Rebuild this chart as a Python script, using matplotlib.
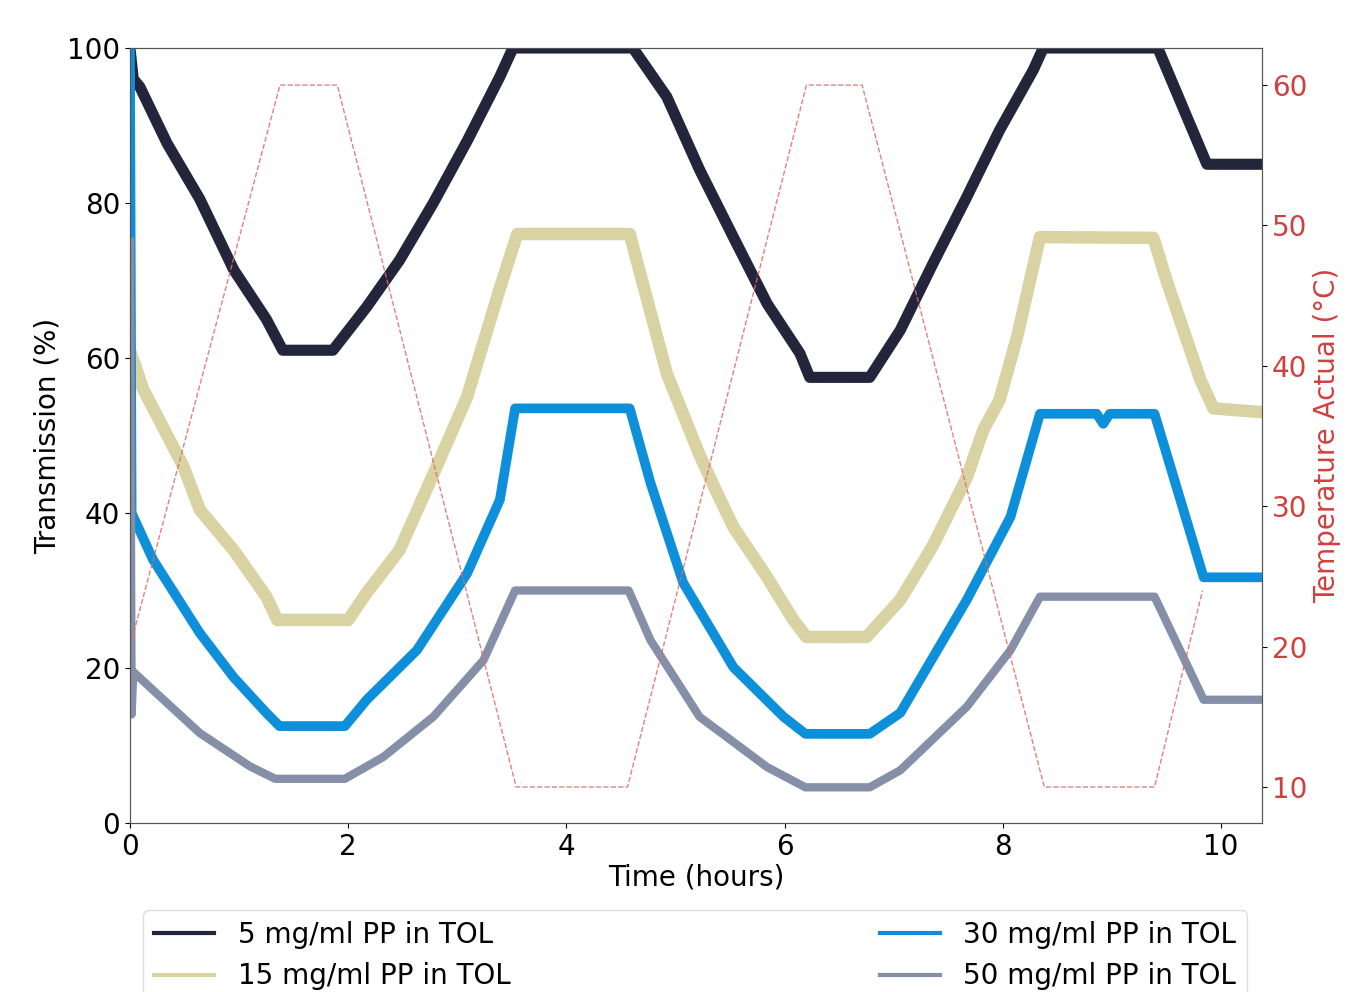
import matplotlib
matplotlib.use("Agg")
import matplotlib.pyplot as plt

# Temperature program (°C)
t_temp = [0.0, 1.375, 1.90, 3.54, 4.56, 6.20, 6.71, 8.38, 9.39, 9.83]
temp = [20, 60, 60, 10, 10, 60, 60, 10, 10, 24]

# Transmission (%) - 5 mg/ml
t_5 = [0.0, 0.03, 0.09, 0.34, 0.64, 0.95, 1.25, 1.4, 1.86, 2.17, 2.47, 2.78, 3.09, 3.39, 3.51,
       4.61, 4.92, 5.22, 5.53, 5.84, 6.14, 6.23, 6.78, 7.06, 7.36, 7.67, 7.97, 8.28, 8.37,
       9.42, 9.87, 10.38]
tr_5 = [100, 96, 95, 87.7, 80.5, 71.4, 65, 61, 61, 66.6, 72.6, 80, 88, 96.3, 100,
        100, 93.7, 84.3, 75.6, 67, 60.6, 57.5, 57.5, 63.6, 72.2, 80.8, 89.4, 97.2, 100,
        100, 85, 85]

# 15 mg/ml
t_15 = [0.0, 0.12, 0.49, 0.64, 0.95, 1.25, 1.35, 2.0, 2.17, 2.47, 2.78, 3.09, 3.39, 3.55,
        4.58, 4.92, 5.22, 5.38, 5.53, 5.84, 6.08, 6.2, 6.75, 7.06, 7.36, 7.67, 7.82, 7.97,
        8.13, 8.34, 9.38, 9.5, 9.81, 9.93, 10.38]
tr_15 = [61, 56, 46, 40.4, 35.2, 29.2, 26.2, 26.2, 29.7, 35.2, 45, 55, 69, 76,
         76, 58, 47.5, 42.6, 38.2, 31.7, 26.2, 24, 24, 28.8, 35.8, 44.6, 50.7, 54.6,
         62.7, 75.6, 75.5, 70, 57.2, 53.5, 53]

# 30 mg/ml
t_30 = [0.0, 0.015, 0.21, 0.64, 0.95, 1.25, 1.37, 1.97, 2.17, 2.63, 3.09, 3.39, 3.53,
        4.58, 4.77, 5.07, 5.53, 5.99, 6.19, 6.78, 7.06, 7.67, 8.07, 8.34,
        8.86, 8.92, 8.98, 9.39, 9.84, 10.38]
tr_30 = [100, 40, 34, 24.5, 18.8, 14.2, 12.5, 12.5, 15.9, 22.3, 32.2, 41.7, 53.5,
         53.5, 43.9, 31, 20.1, 13.7, 11.5, 11.5, 14.2, 28.8, 39.5, 52.8,
         52.8, 51.5, 52.8, 52.8, 31.7, 31.7]

# 50 mg/ml
t_50 = [0.0, 0.015, 0.03, 0.64, 1.1, 1.33, 1.97, 2.32, 2.78, 3.24, 3.53,
        4.57, 4.77, 5.22, 5.84, 6.19, 6.78, 7.06, 7.67, 8.07, 8.34,
        9.39, 9.84, 10.38]
tr_50 = [75, 14, 19.5, 11.6, 7.3, 5.7, 5.7, 8.5, 13.7, 21, 30,
         30, 23.6, 13.7, 7.2, 4.6, 4.6, 6.8, 15, 22.3, 29.2,
         29.2, 15.9, 15.9]

labels = ["5 mg/ml PP in TOL", "15 mg/ml PP in TOL", "30 mg/ml PP in TOL", "50 mg/ml PP in TOL"]
colors = ["#23263b", "#d9d2a2", "#0d8fd9", "#8590a8"]

plt.rcParams['font.family'] = ['DejaVu Sans']
fig = plt.figure(figsize=(13.51, 9.92), dpi=100)
ax = fig.add_axes([0.0962, 0.1704, 0.838, 0.7812])

l1, = ax.plot(t_5, tr_5, color=colors[0], lw=8, label=labels[0])
l2, = ax.plot(t_15, tr_15, color=colors[1], lw=9, label=labels[1])
l3, = ax.plot(t_30, tr_30, color=colors[2], lw=7, label=labels[2])
l4, = ax.plot(t_50, tr_50, color=colors[3], lw=6, label=labels[3])

ax.set_xlim(0, 10.376)
ax.set_ylim(0, 100)
ax.set_xlabel("Time (hours)", fontsize=20, labelpad=2)
ax.set_ylabel("Transmission (%)", fontsize=20)
ax.tick_params(labelsize=20)
ax.set_xticks([0, 2, 4, 6, 8, 10])
ax.set_yticks([0, 20, 40, 60, 80, 100])

# temperature on the right axis
ax2 = ax.twinx()
ax2.plot(t_temp, temp, color="#e06a6a", lw=1, ls='--', alpha=0.85)
ax2.set_ylim(7.44, 62.64)
ax2.set_yticks([10, 20, 30, 40, 50, 60])
ax2.set_ylabel("Temperature Actual (°C)", fontsize=20, color="#d0403f")
ax2.tick_params(axis='y', labelsize=20, labelcolor="#d0403f")

for a in (ax, ax2):
    for s in a.spines.values():
        s.set_color("#555555")

# legend below the plot, two columns
fig.legend([l1, l2, l3, l4], labels, ncol=2, mode='expand', loc='upper left',
           bbox_to_anchor=(0.106, 0.0827, 0.817, 0), borderaxespad=0, fontsize=20,
           handlelength=2.16, handletextpad=0.86, labelspacing=0.5,
           borderpad=0.38, framealpha=1, edgecolor='#dddddd')
for line in fig.legends[0].get_lines():
    line.set_linewidth(3)

fig.savefig("out.png", dpi=100)
